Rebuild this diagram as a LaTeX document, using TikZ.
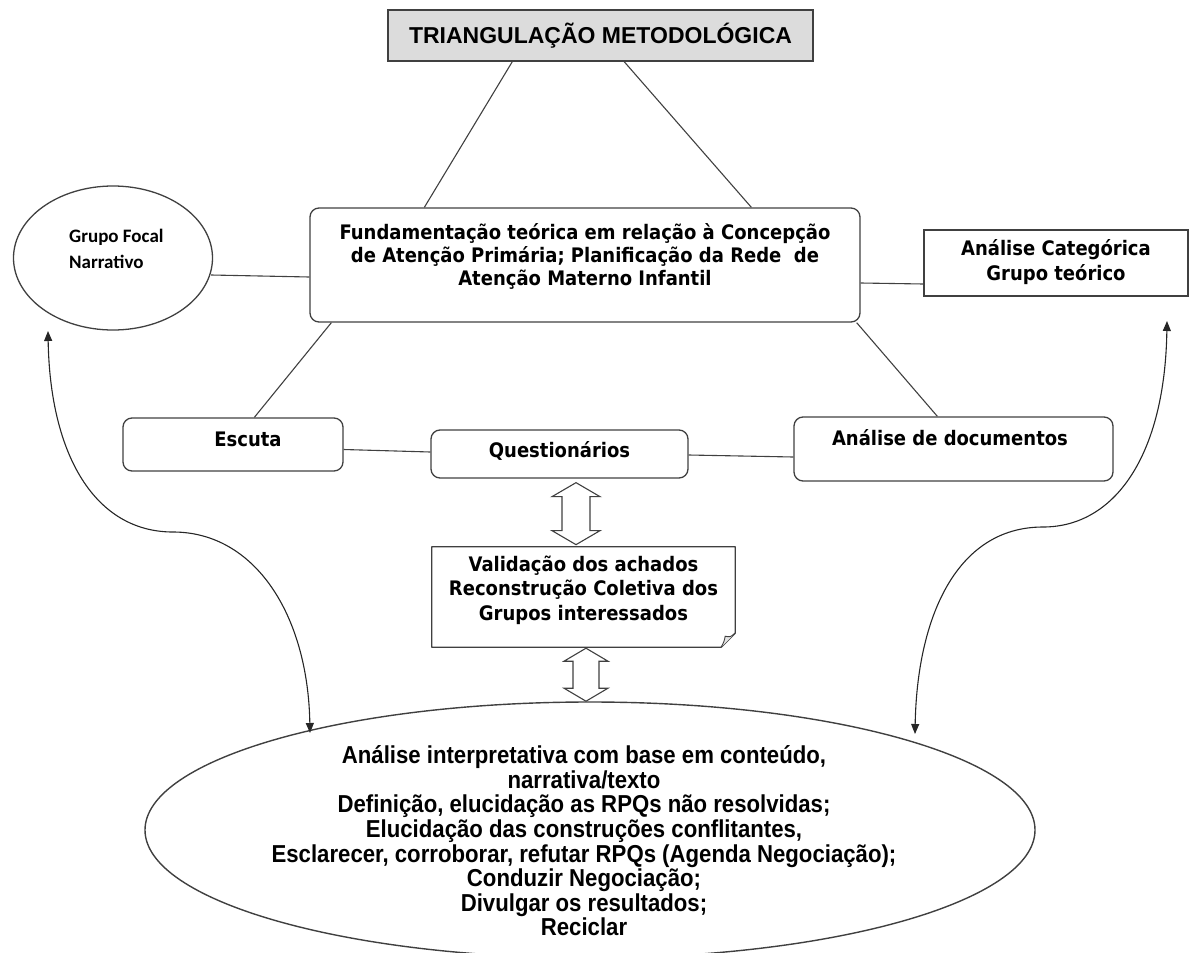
\documentclass[tikz,border=0pt]{standalone}
\usepackage{fontspec}
\usetikzlibrary{calc,arrows.meta,shapes.geometric}
\newfontfamily\boxfont{DejaVu Sans Condensed}
\newfontfamily\headfont{Liberation Sans}
\newfontfamily\narrowfont{Liberation Sans}[FakeStretch=0.905]
\newfontfamily\calfont{Carlito}
\definecolor{edge}{HTML}{404040}
\definecolor{titlefill}{HTML}{DCDCDC}
\definecolor{foldfill}{HTML}{E4E4E4}

\begin{document}
\begin{tikzpicture}[x=1pt,y=-1pt,
  boxline/.style={draw=edge,line width=1.3pt},
  roundbox/.style={boxline,rounded corners=9pt,inner sep=0pt},
  sqbox/.style={boxline,inner sep=0pt},
  boxtext/.style={font=\boxfont\bfseries\fontsize{20}{23}\selectfont,align=center,inner sep=0pt,text=black},
  link/.style={draw=edge,line width=1.1pt},
  loop/.style={draw=black!85,line width=1.1pt,
    {Triangle[length=10pt,width=8pt]}-{Triangle[length=10pt,width=8pt]}},
  hollow/.style={draw=edge,line width=1.1pt,fill=white,line join=miter}]

\useasboundingbox (0,0) rectangle (1189,953);

% heading
\node[sqbox,fill=titlefill,line width=1.5pt,minimum width=425pt,minimum height=51pt]
  (title) at (600.5,35.5) {};
\node[font=\headfont\bfseries\fontsize{23}{26}\selectfont,inner sep=0pt] (titletext)
  at (600.5,36) {TRIANGULAÇÃO METODOLÓGICA};

% central box
\node[roundbox,minimum width=550pt,minimum height=114pt] (fund) at (585,265) {};
\node[boxtext] (fundtext) at (585,256)
  {Fundamentação teórica em relação à Concepção\\
   de Atenção Primária; Planificação da Rede\ \ de\\
   Atenção Materno Infantil};

% focus group
\node[draw=edge,line width=1.3pt,ellipse,minimum width=199pt,minimum height=144pt,inner sep=0pt]
  (grupo) at (113,258) {};
\node[font=\calfont\bfseries\fontsize{19}{26}\selectfont,align=left,anchor=west,inner sep=0pt]
  (grupotext) at (69,249) {Grupo Focal\\Narrativo};

% category analysis
\node[sqbox,minimum width=264pt,minimum height=66pt] (categ) at (1056,263) {};
\node[boxtext,font=\boxfont\bfseries\fontsize{20}{25}\selectfont] (categtext) at (1056,262)
  {Análise Categórica\\Grupo teórico};

% lower row
\node[roundbox,minimum width=220pt,minimum height=53pt] (escuta) at (233,444.5) {};
\node[boxtext] (escutatext) at (248,439) {Escuta};

\node[roundbox,minimum width=257pt,minimum height=48pt] (quest) at (559.5,454) {};
\node[boxtext] (questtext) at (559.5,451) {Questionários};

\node[roundbox,minimum width=319pt,minimum height=64pt] (docs) at (953.5,449) {};
\node[boxtext] (docstext) at (950,438) {Análise de documentos};

% validation note with folded corner
\node[minimum width=303pt,minimum height=100pt,inner sep=0pt] (valid) at (583.5,597) {};
\draw[boxline,line join=round] (valid.north west) -- (valid.north east)
  -- ($(valid.south east)+(0,-14)$) -- ($(valid.south east)+(-14,0)$)
  -- (valid.south west) -- cycle;
\draw[boxline,fill=foldfill,line width=0.9pt] ($(valid.south east)+(-14,0)$)
  .. controls ($(valid.south east)+(-11,-6)$) .. ($(valid.south east)+(-10,-11)$)
  .. controls ($(valid.south east)+(-5,-10)$) .. ($(valid.south east)+(0,-14)$);
\node[font=\boxfont\bfseries\fontsize{20}{24.5}\selectfont,align=center,inner sep=0pt]
  (validtext) at (583.5,590)
  {Validação dos achados\\Reconstrução Coletiva dos\\Grupos interessados};

% final analysis
\node[draw=edge,line width=1.4pt,ellipse,minimum width=890pt,minimum height=256pt,inner sep=0pt]
  (final) at (590,830) {};
\node[font=\narrowfont\bfseries\fontsize{24.5}{24.6}\selectfont,align=center,inner sep=0pt]
  (finaltext) at (584,841)
  {Análise interpretativa com base em conteúdo,\\
   narrativa/texto\\
   Definição, elucidação as RPQs não resolvidas;\\
   Elucidação das construções conflitantes,\\
   Esclarecer, corroborar, refutar RPQs (Agenda Negociação);\\
   Conduzir Negociação;\\
   Divulgar os resultados;\\
   Reciclar};

% connectors of the triangle
\draw[link] ($(title.south west)+(125,0)$) -- ($(fund.north west)+(115,0)$);
\draw[link] ($(title.south west)+(237,0)$) -- ($(fund.north west)+(442,0)$);
\draw[link] ($(grupo.east)+(-2,17)$) -- ($(fund.west)+(0,12)$);
\draw[link] ($(fund.east)+(0,18)$) -- ($(categ.west)+(0,21)$);
\draw[link] ($(fund.south west)+(22,0)$) -- ($(escuta.north west)+(132,0)$);
\draw[link] ($(fund.south east)+(-4,0)$) -- ($(docs.north west)+(144,0)$);
\draw[link] ($(escuta.east)+(0,5)$) -- ($(quest.west)+(0,-2)$);
\draw[link] ($(quest.east)+(0,1)$) -- ($(docs.west)+(0,8)$);

% hollow double arrows
\coordinate (a1) at ($(quest.south)+(16.5,4)$);
\draw[hollow] (a1) -- ++(24,14) -- ++(-10,0) -- ++(0,34) -- ++(10,0) -- ++(-24,14)
  -- ++(-24,-14) -- ++(10,0) -- ++(0,-34) -- ++(-10,0) -- cycle;
\coordinate (a2) at ($(valid.south)+(2.5,1)$);
\draw[hollow] (a2) -- ++(22,13) -- ++(-9,0) -- ++(0,27) -- ++(9,0) -- ++(-22,13)
  -- ++(-22,-13) -- ++(9,0) -- ++(0,-27) -- ++(-9,0) -- cycle;

% feedback loops
\coordinate (ltop) at (48,331);
\coordinate (lbot) at (310,733);
\draw[loop] (ltop) .. controls (50,455) and (95,532) .. (173,532)
  .. controls (255,532) and (308,615) .. (lbot);
\coordinate (rtop) at (1167,321);
\coordinate (rbot) at (915,734);
\draw[loop] (rtop) .. controls (1165,455) and (1115,527) .. (1043,527)
  .. controls (955,527) and (917,620) .. (rbot);

\end{tikzpicture}
\end{document}
